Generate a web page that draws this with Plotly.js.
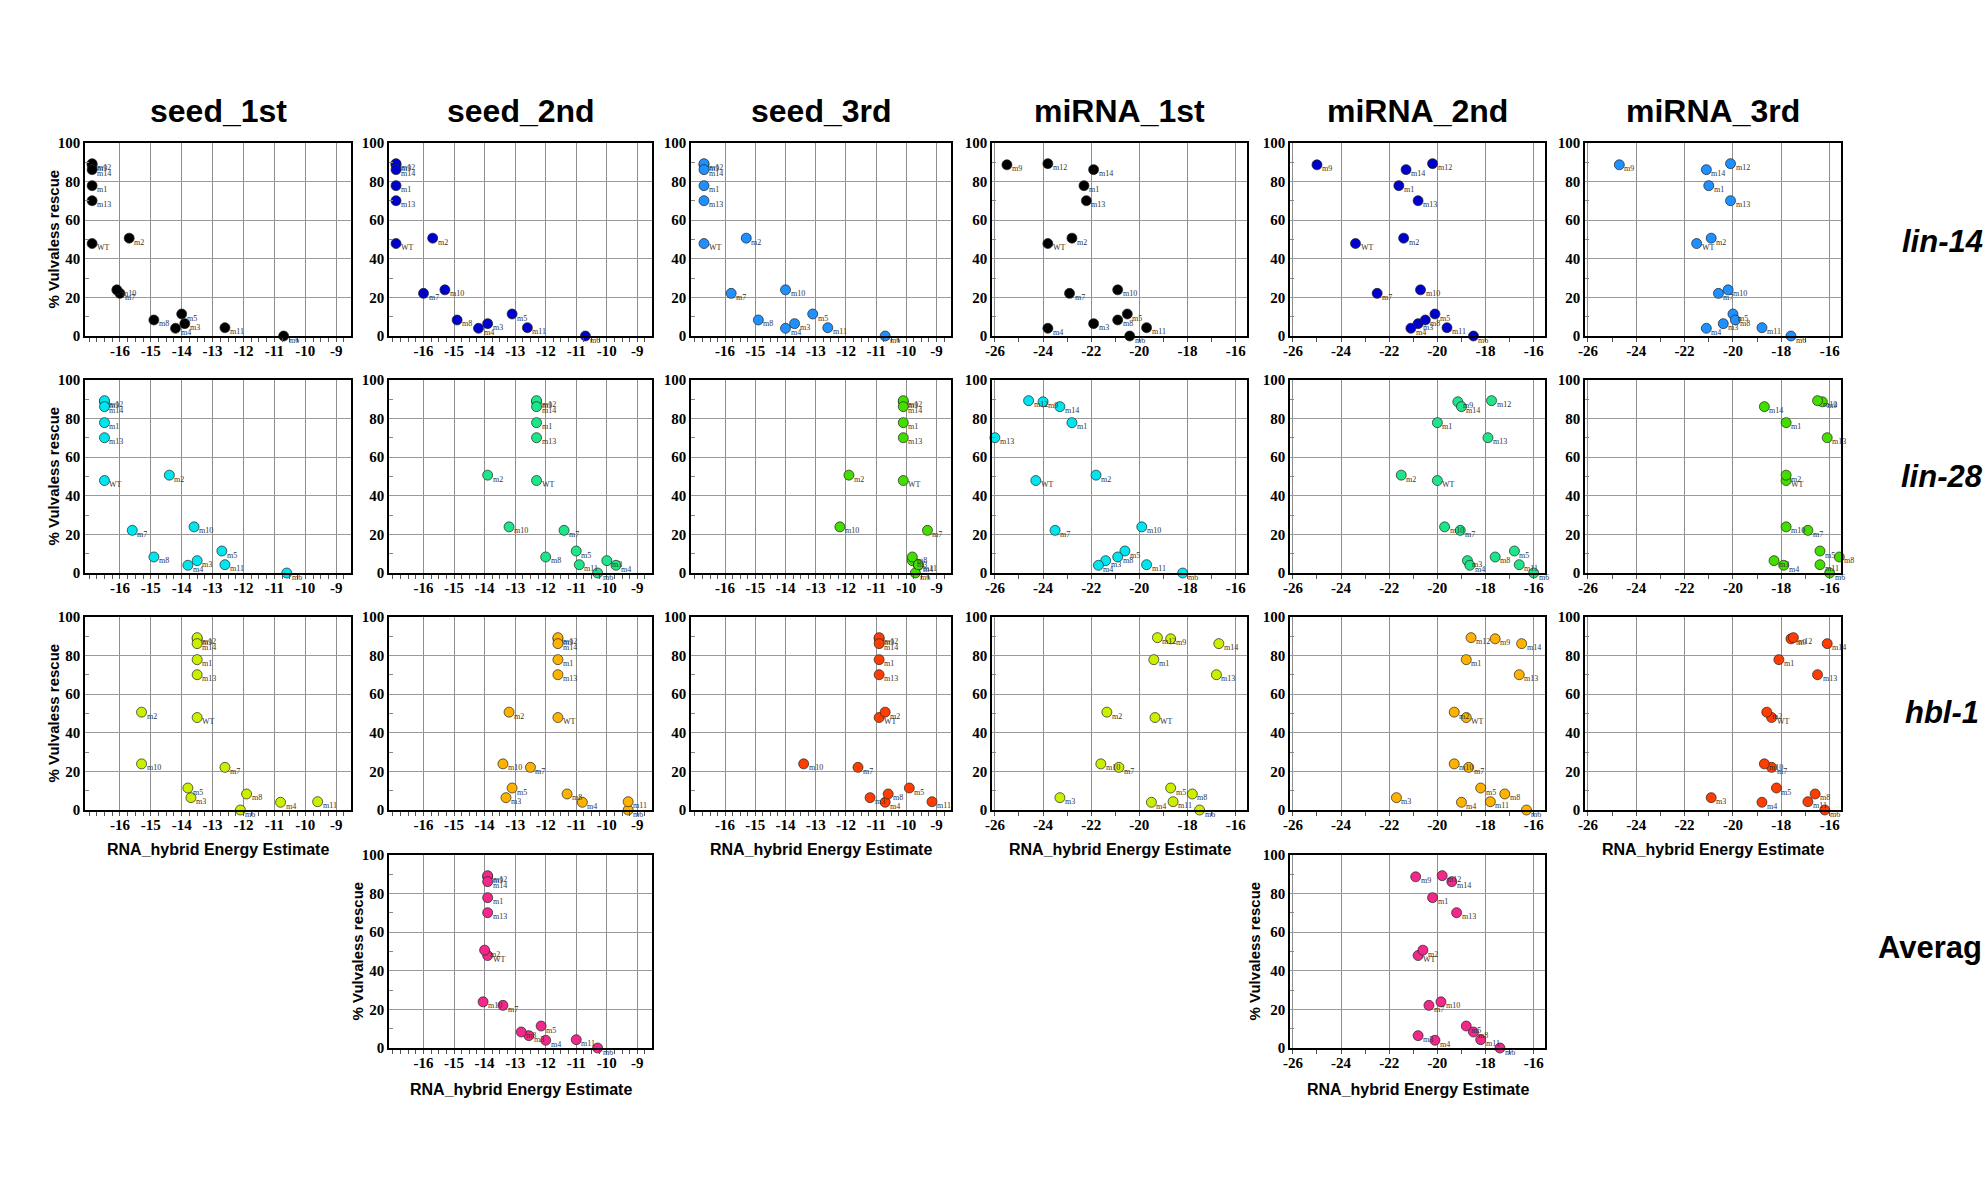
<!DOCTYPE html>
<html>
<head>
<meta charset="utf-8">
<script src="https://cdn.plot.ly/plotly-3.0.1.min.js"></script>
<style>
  html, body { margin: 0; padding: 0; background: #fff; }
  #chart { width: 1986px; height: 1201px; }
</style>
</head>
<body>
<div id="chart"></div>
<script>
// ---------- DATA ----------
const mutants = ["WT","m1","m2","m3","m4","m5","m6","m7","m8","m9","m10","m11","m12","m13","m14"];
const rescue  = [47.9, 77.9, 50.7, 6.4, 4.0, 11.4, 0, 22.1, 8.3, 88.7, 23.9, 4.3, 89.3, 70.1, 86.2];

// x = RNA_hybrid energy estimate, in the same order as mutants
const lin14_seed1 = [-16.9,-16.9,-15.7,-13.9,-14.2,-14.0,-10.7,-16.0,-14.9,-16.9,-16.1,-12.6,-16.9,-16.9,-16.9];
const lin14_seed2 = [-16.9,-16.9,-15.7,-13.9,-14.2,-13.1,-10.7,-16.0,-14.9,-16.9,-15.3,-12.6,-16.9,-16.9,-16.9];
const lin14_seed3 = [-16.7,-16.7,-15.3,-13.7,-14.0,-13.1,-10.7,-15.8,-14.9,-16.7,-14.0,-12.6,-16.7,-16.7,-16.7];
const lin14_mir1  = [-23.8,-22.3,-22.8,-21.9,-23.8,-20.5,-20.4,-22.9,-20.9,-25.5,-20.9,-19.7,-23.8,-22.2,-21.9];
const lin14_mir2  = [-23.4,-21.6,-21.4,-20.8,-21.1,-20.1,-18.5,-22.5,-20.5,-25.0,-20.7,-19.6,-20.2,-20.8,-21.3];
const lin14_mir3  = [-21.5,-21.0,-20.9,-20.4,-21.1,-20.0,-17.6,-20.6,-19.9,-24.7,-20.2,-18.8,-20.1,-20.1,-21.1];

const lin28_seed1 = [-16.5,-16.5,-14.4,-13.5,-13.8,-12.7,-10.6,-15.6,-14.9,-16.5,-13.6,-12.6,-16.5,-16.5,-16.5];
const lin28_seed2 = [-12.3,-12.3,-13.9,-10.0,-9.7,-11.0,-10.3,-11.4,-12.0,-12.3,-13.2,-10.9,-12.3,-12.3,-12.3];
const lin28_seed3 = [-10.1,-10.1,-11.9,-9.8,-9.6,-8.5,-9.7,-9.3,-9.8,-10.1,-12.2,-9.6,-10.1,-10.1,-10.1];
const lin28_mir1  = [-24.3,-22.8,-21.8,-21.4,-21.7,-20.6,-18.2,-23.5,-20.9,-24.0,-19.9,-19.7,-24.6,-26.0,-23.3];
const lin28_mir2  = [-20.0,-20.0,-21.5,-18.75,-18.65,-16.8,-16.0,-19.05,-17.6,-19.15,-19.7,-16.6,-17.75,-17.9,-19.0];
const lin28_mir3  = [-17.8,-17.8,-17.8,-18.3,-17.9,-16.4,-16.0,-16.9,-15.6,-16.3,-17.8,-16.4,-16.5,-16.1,-18.7];

const hbl1_seed1  = [-13.5,-13.5,-15.3,-13.7,-10.8,-13.8,-12.1,-12.6,-11.9,-13.5,-15.3,-9.6,-13.5,-13.5,-13.5];
const hbl1_seed2  = [-11.6,-11.6,-13.2,-13.3,-10.8,-13.1,-9.3,-12.5,-11.3,-11.6,-13.4,-9.3,-11.6,-11.6,-11.6];
const hbl1_seed3  = [-10.9,-10.9,-10.7,-11.2,-10.7,-9.9,-8.5,-11.6,-10.6,-10.9,-13.4,-9.15,-10.9,-10.9,-10.9];
const hbl1_mir1   = [-19.35,-19.4,-21.35,-23.3,-19.5,-18.7,-17.5,-20.85,-17.8,-18.7,-21.6,-18.6,-19.25,-16.8,-16.7];
const hbl1_mir2   = [-18.8,-18.8,-19.3,-21.7,-19.0,-18.2,-16.3,-18.7,-17.2,-17.6,-19.3,-17.8,-18.6,-16.6,-16.5];
const hbl1_mir3   = [-18.4,-18.1,-18.6,-20.9,-18.8,-18.2,-16.2,-18.4,-16.6,-17.6,-18.7,-16.9,-17.5,-16.5,-16.1];

const avg_seed    = [-13.9,-13.9,-14.0,-12.55,-12.0,-12.15,-10.3,-13.4,-12.8,-13.9,-14.05,-11.0,-13.9,-13.9,-13.9];
const avg_mir     = [-20.8,-20.2,-20.6,-20.8,-20.1,-18.8,-17.4,-20.35,-18.5,-20.9,-19.85,-18.2,-19.8,-19.2,-19.4];

const columnTitles = ["seed_1st","seed_2nd","seed_3rd","miRNA_1st","miRNA_2nd","miRNA_3rd"];
const rowTitles    = ["lin-14","lin-28","hbl-1","Averag"];
const seedTicks    = [-16,-15,-14,-13,-12,-11,-10,-9];
const mirnaTicks   = [-26,-24,-22,-20,-18,-16];
const rescueTicks  = [0,20,40,60,80,100];
const xTitle = "RNA_hybrid Energy Estimate";
const yTitle = "% Vulvaless rescue";

// ---------- LAYOUT / STYLE ----------
const W = 1986, H = 1201;
const colPx = [[85,351],[389,652],[691,951],[992,1247],[1290,1545],[1585,1841]];
const rowPx = [[143,336],[380,573],[617,810],[855,1048]];
const seedRange = [-17.13,-8.52];
const mirRange  = [-26.12,-15.53];

const C = {
  black:'#000000', blue:'#0000cc', sky:'#1e90ff',
  cyan:'#00e5ee', spring:'#1ee58a', green:'#44dd00',
  lime:'#ccee00', orange:'#ffb300', red:'#ff3d00', pink:'#f2288a'
};

const panels = [
  {x:lin14_seed1,row:0,col:0,color:C.black},
  {x:lin14_seed2,row:0,col:1,color:C.blue},
  {x:lin14_seed3,row:0,col:2,color:C.sky},
  {x:lin14_mir1, row:0,col:3,color:C.black},
  {x:lin14_mir2, row:0,col:4,color:C.blue},
  {x:lin14_mir3, row:0,col:5,color:C.sky},
  {x:lin28_seed1,row:1,col:0,color:C.cyan},
  {x:lin28_seed2,row:1,col:1,color:C.spring},
  {x:lin28_seed3,row:1,col:2,color:C.green},
  {x:lin28_mir1, row:1,col:3,color:C.cyan},
  {x:lin28_mir2, row:1,col:4,color:C.spring},
  {x:lin28_mir3, row:1,col:5,color:C.green},
  {x:hbl1_seed1, row:2,col:0,color:C.lime},
  {x:hbl1_seed2, row:2,col:1,color:C.orange},
  {x:hbl1_seed3, row:2,col:2,color:C.red},
  {x:hbl1_mir1,  row:2,col:3,color:C.lime},
  {x:hbl1_mir2,  row:2,col:4,color:C.orange},
  {x:hbl1_mir3,  row:2,col:5,color:C.red},
  {x:avg_seed,   row:3,col:1,color:C.pink},
  {x:avg_mir,    row:3,col:4,color:C.pink}
];

const px2x = p => p / W;
const px2y = p => 1 - p / H;

const serif = 'Liberation Serif, Times New Roman, serif';
const sans  = 'Liberation Sans, Arial, sans-serif';
const tickFont = {family:serif, size:15, color:'#000', weight:'bold'};
const traces = [];
const layout = {
  width: W, height: H,
  margin: {l:0, r:0, t:0, b:0},
  paper_bgcolor: '#fff', plot_bgcolor: '#fff',
  showlegend: false,
  annotations: []
};
const ann = layout.annotations;

panels.forEach((p, i) => {
  const k = i + 1;
  const sfx = (k === 1 ? '' : String(k));
  const isSeed = p.col < 3;
  traces.push({
    type: 'scatter', mode: 'markers',
    x: p.x, y: rescue, text: mutants,
    xaxis: 'x' + sfx, yaxis: 'y' + sfx,
    marker: {size: 10, color: p.color, line: {color: '#222', width: 0.7}},
    cliponaxis: false,
    hoverinfo: 'x+y+text'
  });
  // point labels: small serif text just right of and slightly below each marker
  p.x.forEach((xv, j) => {
    ann.push({text: mutants[j], xref: 'x' + sfx, yref: 'y' + sfx,
      x: xv, y: rescue[j], xanchor: 'left', yanchor: 'middle',
      xshift: 3, yshift: -4, showarrow: false,
      font: {family: serif, size: 8, color: '#333'}});
  });
  layout['xaxis' + sfx] = {
    domain: [px2x(colPx[p.col][0]), px2x(colPx[p.col][1])],
    anchor: 'y' + sfx,
    range: isSeed ? seedRange : mirRange,
    tickmode: 'array', tickvals: isSeed ? seedTicks : mirnaTicks,
    ticktext: (isSeed ? seedTicks : mirnaTicks).map(String),
    tickfont: tickFont,
    ticks: '', showgrid: true, gridcolor: '#8f8f8f', gridwidth: 1.2,
    zeroline: false, showline: true, mirror: true, linecolor: '#000', linewidth: 1.5,
    minor: {tickmode:'linear', tick0: isSeed ? -17 : -26, dtick: isSeed ? 0.25 : 1,
            ticks:'outside', ticklen: 4, tickcolor:'#555', tickwidth: 1, showgrid: false},
    fixedrange: true
  };
  layout['yaxis' + sfx] = {
    domain: [px2y(rowPx[p.row][1]), px2y(rowPx[p.row][0])],
    anchor: 'x' + sfx,
    range: [0, 100],
    tickmode: 'array', tickvals: rescueTicks, ticktext: rescueTicks.map(String),
    tickfont: tickFont,
    ticks: '', showgrid: true, gridcolor: '#9a9a9a', gridwidth: 1.2,
    zeroline: false, showline: true, mirror: true, linecolor: '#000', linewidth: 1.5,
    minor: {tickmode:'linear', tick0: 10, dtick: 20, ticks:'inside', ticklen: 4,
            tickcolor:'#888', tickwidth: 1, showgrid: false},
    fixedrange: true
  };
});

// column titles
columnTitles.forEach((t, c) => {
  ann.push({text: t, xref:'paper', yref:'paper',
    x: px2x((colPx[c][0] + colPx[c][1]) / 2), y: px2y(111),
    xanchor:'center', yanchor:'middle', showarrow:false,
    font:{family:sans, size:32, color:'#000', weight:'bold'}});
});
// row titles
const rowTitleY = [242, 477, 712, 947];
rowTitles.forEach((t, r) => {
  const isAvg = r === 3;
  ann.push({text: t, xref:'paper', yref:'paper',
    x: isAvg ? px2x(1984) : px2x(1942), y: px2y(rowTitleY[r]),
    xanchor: isAvg ? 'right' : 'center', yanchor:'middle', showarrow:false,
    font:{family:sans, size:31, color:'#000', weight:'bold',
          style: isAvg ? 'normal' : 'italic'}});
});
// axis titles
const yTitleSpots = [[53,0],[53,1],[53,2],[357,3],[1254,3]];
yTitleSpots.forEach(([xp, r]) => {
  ann.push({text: yTitle, xref:'paper', yref:'paper',
    x: px2x(xp), y: px2y((rowPx[r][0] + rowPx[r][1]) / 2),
    xanchor:'center', yanchor:'middle', textangle:-90, showarrow:false,
    font:{family:sans, size:15, color:'#000', weight:'bold'}});
});
const xTitleSpots = [[0,849],[2,849],[3,849],[5,849],[1,1089],[4,1089]];
xTitleSpots.forEach(([c, yp]) => {
  ann.push({text: xTitle, xref:'paper', yref:'paper',
    x: px2x((colPx[c][0] + colPx[c][1]) / 2), y: px2y(yp),
    xanchor:'center', yanchor:'middle', showarrow:false,
    font:{family:sans, size:16, color:'#000', weight:'bold'}});
});

Plotly.newPlot('chart', traces, layout, {displayModeBar:false});
</script>
</body>
</html>
